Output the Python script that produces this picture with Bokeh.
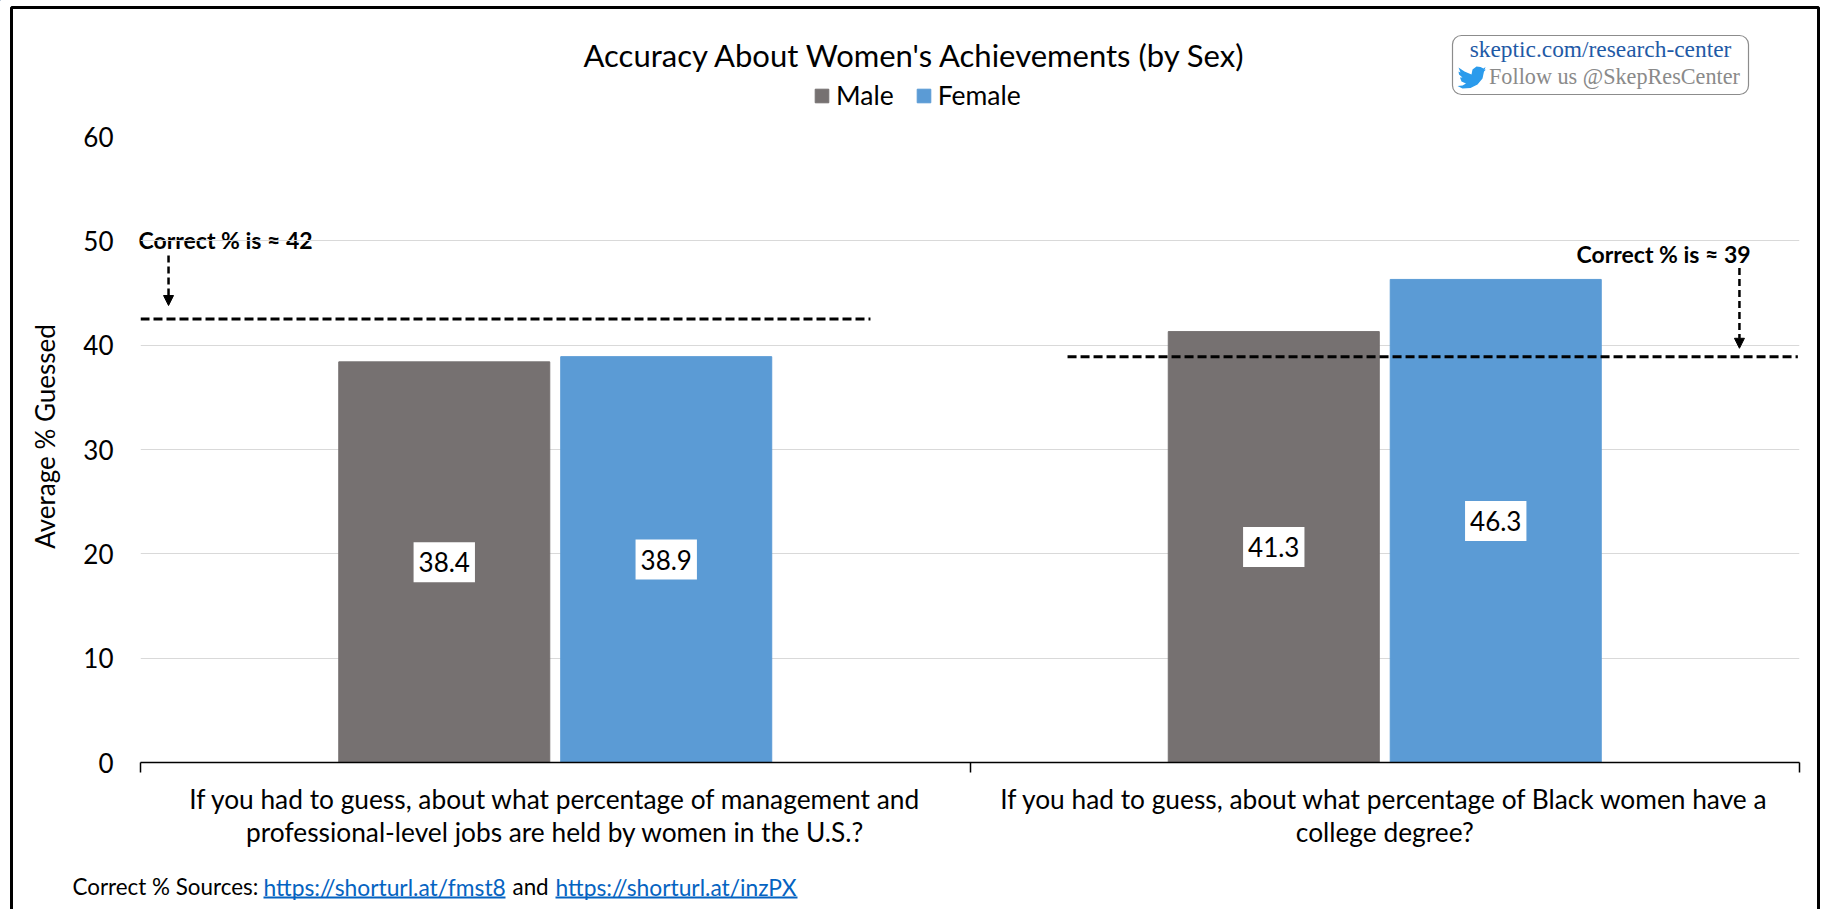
from bokeh.embed import file_html
from bokeh.models import (Arrow, BoxAnnotation, ColumnDataSource, FixedTicker, Label, Legend,
                          LegendItem, NormalHead, PolyAnnotation, Range1d)
from bokeh.plotting import figure
from bokeh.resources import INLINE

# Survey means by question and respondent sex
categories = ["If you had to guess, about what percentage of management and\nprofessional-level jobs are held by women in the U.S.?",
              "If you had to guess, about what percentage of Black women have a\ncollege degree?"]
male = [38.4, 41.3]
female = [38.9, 46.3]
correct = [42.5, 38.9]
correct_labels = ["Correct % is ≈ 42", "Correct % is ≈ 39"]
y_ticks = [0, 10, 20, 30, 40, 50, 60]
series_names = ["Male", "Female"]
source_parts = ["Correct % Sources:", "https://shorturl.at/fmst8", "and", "https://shorturl.at/inzPX"]

GREY, BLUE = "#767171", "#5b9bd5"
LINK = "#0563c1"
FONT = "Lato"
SERIF = "Liberation Serif"

W, H = 1821, 909
LEFT, RIGHT, TOP, BOTTOM = 140, 22, 136, 147
FIXED = {"position": "absolute", "left": "0px", "top": "0px"}

# Back sheet: page furniture addressed in page pixels
back = figure(width=W, height=H, output_backend="svg", toolbar_location=None,
              x_range=Range1d(0, W), y_range=Range1d(H, 0), x_axis_location=None, y_axis_location=None,
              min_border_left=0, min_border_right=0, min_border_top=0, min_border_bottom=0, styles=FIXED)
back.outline_line_color = None
back.xgrid.visible = False
back.ygrid.visible = False


def text(s, x, y, size, color="black", align="left", bold=False, font=FONT, angle=0):
    back.add_layout(Label(x=x, y=y, text=s, text_font=font, text_font_size=f"{size}px", text_color=color,
                          text_align=align, text_baseline="middle",
                          text_font_style="bold" if bold else "normal", angle=angle, angle_units="deg"))


def box(left, right, top, bottom, **kw):
    back.add_layout(BoxAnnotation(left=left, right=right, top=top, bottom=bottom, editable=False, **kw))


text("Accuracy About Women's Achievements (by Sex)", 915, 54, 31, align="center")
text("Average % Guessed", 44, 436, 26, align="center", angle=90)
text(correct_labels[0], 138, 239, 23, bold=True)
text(correct_labels[1], 1576, 253, 23, bold=True)

# Legend keys come from off-canvas renderers on this sheet
key_m = back.vbar(x=[-50], top=[-50], width=1, color=GREY)
key_f = back.vbar(x=[-50], top=[-50], width=1, color=BLUE)
legend = Legend(items=[LegendItem(label=series_names[0], renderers=[key_m]),
                       LegendItem(label=series_names[1], renderers=[key_f])],
                orientation="horizontal", location=(813, H - 111), glyph_width=17, glyph_height=17,
                label_standoff=6, spacing=21, padding=4, margin=0, border_line_color=None,
                background_fill_alpha=0, label_text_font=FONT, label_text_font_size="26.5px", label_text_color="black")
back.add_layout(legend, "center")

# Footer with source links
text(source_parts[0], 72, 886, 22.4)
text(source_parts[1], 263, 886, 22.8, color=LINK)
text(source_parts[2], 512, 886, 22.4)
text(source_parts[3], 555, 886, 22.8, color=LINK)
for a, b in ((263, 505), (555, 797)):
    box(a, b, 896, 898, fill_color=LINK, fill_alpha=1, line_color=None)

# Outer rule on three sides
box(11, 1818, 7, 925, fill_alpha=0, line_color="black", line_alpha=1, line_width=3)

# Site badge
box(1452, 1748, 35, 94, fill_color="white", fill_alpha=1, line_color="#8c8c8c", line_alpha=1,
    line_width=1.2, border_radius=9)
text("skeptic.com/research-center", 1600, 48, 23.4, color="#1f5aa6", align="center", font=SERIF)
text("Follow us @SkepResCenter", 1614, 76, 22.2, color="#8a8a8a", align="center", font=SERIF)
bird_x = [1458, 1464, 1471, 1472, 1476, 1480, 1483, 1485, 1484, 1485.5, 1483.5, 1482, 1477, 1470, 1462, 1457,
          1462, 1465.5, 1461, 1459.5, 1462, 1458.5, 1458, 1460]
bird_y = [67, 71, 74, 69, 66, 66.5, 68, 66.5, 69.5, 69, 71, 78, 84, 87.5, 88, 85.5,
          85, 83, 81, 77, 77, 74, 71, 72]
back.add_layout(PolyAnnotation(xs=bird_x, ys=bird_y, fill_color="#2b9bec", fill_alpha=1,
                               line_color=None, editable=False))

# Chart sheet, transparent so the back sheet shows through
p = figure(width=W, height=H, output_backend="svg", toolbar_location=None,
           x_range=Range1d(0, 2), y_range=Range1d(0, 60),
           min_border_left=LEFT, min_border_right=RIGHT, min_border_top=TOP, min_border_bottom=BOTTOM,
           styles=FIXED)
p.outline_line_color = None
p.background_fill_color = None
p.border_fill_color = None

centers = [0.5, 1.5]
bar_w = 0.2544
offset = 0.1338
src = ColumnDataSource(dict(xm=[c - offset for c in centers], xf=[c + offset for c in centers],
                            male=male, female=female))
p.vbar(x="xm", top="male", width=bar_w, source=src, color=GREY)
p.vbar(x="xf", top="female", width=bar_w, source=src, color=BLUE)

# Axes: category names sit mid-band, tick marks on the band edges
xa = p.xaxis[0]
xa.ticker = FixedTicker(ticks=centers, minor_ticks=[0, 1, 2])
xa.major_label_overrides = {c: t for c, t in zip(centers, categories)}
xa.major_tick_line_color = None
xa.minor_tick_out = 10
xa.minor_tick_in = 0
xa.minor_tick_line_color = "black"
xa.minor_tick_line_width = 1.5
xa.axis_line_color = "black"
xa.axis_line_width = 1.5
xa.major_label_text_font = FONT
xa.major_label_text_font_size = "26.3px"
xa.major_label_text_color = "black"
xa.major_label_text_line_height = 1.06
xa.major_label_standoff = 10

ya = p.yaxis[0]
ya.ticker = FixedTicker(ticks=y_ticks)
ya.axis_line_color = None
ya.major_tick_line_color = None
ya.minor_tick_line_color = None
ya.major_label_text_font = FONT
ya.major_label_text_font_size = "26px"
ya.major_label_text_color = "black"
ya.major_label_standoff = 21

p.xgrid.visible = False
p.ygrid.ticker = FixedTicker(ticks=y_ticks)
p.ygrid.grid_line_color = "#d9d9d9"
p.ygrid.grid_line_width = 1

# Dashed reference lines with the true values
p.line([0, 0.88], [correct[0]] * 2, line_color="black", line_width=3, line_dash="9 4")
p.line([1.1176, 1.998], [correct[1]] * 2, line_color="black", line_width=3, line_dash="9 4")

for x0, y0, y1 in [(0.0338, 48.6, 43.8), (1.9276, 47.4, 39.7)]:
    p.add_layout(Arrow(x_start=x0, y_start=y0, x_end=x0, y_end=y1, line_color="black",
                       line_width=2.5, line_dash="7 4",
                       end=NormalHead(size=10, fill_color="black", line_color="black")))

# Value tags centred on each bar
for xs, vals in ((src.data["xm"], male), (src.data["xf"], female)):
    for x, v in zip(xs, vals):
        p.add_layout(Label(x=x, y=v / 2, text=f"{v}", text_font=FONT, text_font_size="26px",
                           text_color="black", text_align="center", text_baseline="middle",
                           background_fill_color="white", padding=(5, 10)))

open("out.html", "w").write(file_html([back, p], INLINE))
